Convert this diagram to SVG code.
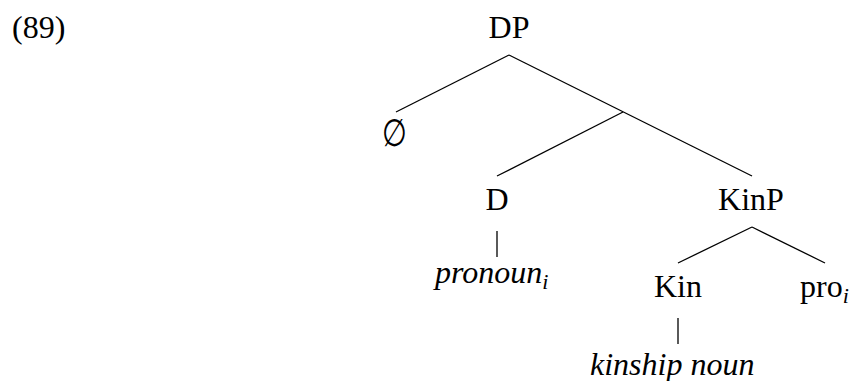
<svg xmlns="http://www.w3.org/2000/svg" width="853" height="381" viewBox="0 0 853 381">
<style>
text{font-family:"Liberation Serif","Times New Roman",serif;font-size:32px;fill:#000}
.it{font-style:italic}
.sub{font-size:22px;font-style:italic}
.edge{stroke:#000;stroke-width:1.3;fill:none}
</style>
<rect width="853" height="381" fill="#fff"/>
<text x="12" y="38">(89)</text>
<g id="connectors">
<line class="edge" x1="509" y1="55" x2="396" y2="112"/>
<line class="edge" x1="509" y1="55" x2="752" y2="176"/>
<line class="edge" x1="623" y1="112" x2="497" y2="176"/>
<line class="edge" x1="497" y1="231" x2="497" y2="257"/>
<line class="edge" x1="752" y1="227" x2="678" y2="263"/>
<line class="edge" x1="752" y1="227" x2="825" y2="263"/>
<line class="edge" x1="678" y1="318" x2="678" y2="344"/>
</g>
<g id="node-DP"><text x="509" y="38" text-anchor="middle">DP</text></g>
<g id="node-empty"><text transform="translate(395,146) scale(0.75,1)" text-anchor="middle" style="font-family:'DejaVu Serif',serif;font-size:38px">∅</text></g>
<g id="node-D"><text x="497" y="210" text-anchor="middle">D</text></g>
<g id="node-KinP"><text x="751" y="210" text-anchor="middle">KinP</text></g>
<g id="node-pronoun"><text x="435" y="283" class="it">pronoun<tspan class="sub" dy="6">i</tspan></text></g>
<g id="node-Kin"><text x="678" y="297" text-anchor="middle">Kin</text></g>
<g id="node-pro"><text x="800" y="297">pro<tspan class="sub" dy="6">i</tspan></text></g>
<g id="node-kinship"><text x="590" y="375" class="it">kinship noun</text></g>
</svg>
